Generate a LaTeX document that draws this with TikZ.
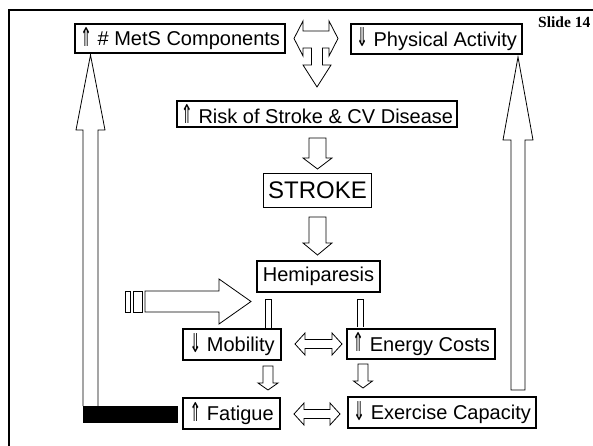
\documentclass[tikz,border=0pt]{standalone}
\usepackage{fontspec}
\usepackage{graphicx}
\setmainfont{Liberation Sans}
\newfontfamily\symf{DejaVu Sans}
\newfontfamily\slidef{Liberation Serif}
\newcommand\upA{\raisebox{-0.5pt}{\scalebox{0.72}[1.3]{\symf ⇑}}}
\newcommand\dnA{\raisebox{-0.5pt}{\scalebox{0.72}[1.3]{\symf ⇓}}}
% down block arrow: x, ytop, yhead, ytip, shaft half width, head half width
\newcommand\dnblk[6]{\draw[blk] (#1-#5,#2) -- (#1-#5,#3) -- (#1-#6,#3) -- (#1,#4) -- (#1+#6,#3) -- (#1+#5,#3) -- (#1+#5,#2) -- cycle;}
% up block arrow: x, ybottom, yhead, ytip, shaft half width, head half width
\newcommand\upblk[6]{\draw[blk] (#1-#5,#2) -- (#1-#5,#3) -- (#1-#6,#3) -- (#1,#4) -- (#1+#6,#3) -- (#1+#5,#3) -- (#1+#5,#2);}
% left-right block arrow: y, xleft tip, xright tip, head length, shaft half width, head half width
\newcommand\lrblk[6]{\draw[blk] (#2,#1) -- (#2+#4,#1-#6) -- (#2+#4,#1-#5) -- (#3-#4,#1-#5) -- (#3-#4,#1-#6) -- (#3,#1) -- (#3-#4,#1+#6) -- (#3-#4,#1+#5) -- (#2+#4,#1+#5) -- (#2+#4,#1+#6) -- cycle;}
\begin{document}
\begin{tikzpicture}[x=1pt,y=-1pt,
  blk/.style={draw, line width=0.8pt, fill=white, line join=miter},
  box/.style={draw, line width=1.8pt, fill=white, inner sep=0pt, font=\fontsize{20}{24}\selectfont},
  thinbox/.style={box, line width=1pt, font=\fontsize{24}{28}\selectfont}]
\useasboundingbox (0,0) rectangle (593,446);
\fill[white] (0,0) rectangle (593,446);
% frame
\draw[line width=2pt] (8.5,448) -- (8.5,10) -- (595,10);
\node[anchor=base west, inner sep=0pt, font=\slidef\bfseries\fontsize{15.5}{18}\selectfont] (slide) at (538,28) {Slide 14};

% boxes
\node[box, minimum width=210, minimum height=29] (mets) at (180,38.5) {\upA\ \# MetS Components};
\node[box, minimum width=171, minimum height=30] (pa) at (436.5,39) {\dnA\ Physical Activity};
\node[box, minimum width=280, minimum height=26] (risk) at (317,114) {\upA\ Risk of Stroke \& CV Disease};
\node[thinbox, minimum width=108, minimum height=34] (stroke) at (317.5,190.5) {STROKE};
\node[box, minimum width=123, minimum height=31] (hemi) at (318.5,276.5) {Hemiparesis};
\node[box, minimum width=98, minimum height=31] (mob) at (232,344.5) {\dnA\ Mobility};
\node[box, minimum width=148, minimum height=30] (energy) at (421,344) {\upA\ Energy Costs};
\node[box, minimum width=97, minimum height=31] (fatigue) at (231.5,413.5) {\upA\ Fatigue};
\node[box, minimum width=188, minimum height=31] (exer) at (442,412.5) {\dnA\ Exercise Capacity};

% T-shaped arrow between MetS and Physical Activity
\draw[blk] (294,38.5) -- (303,21) -- (303,31) -- (329,31) -- (329,21) -- (338,38.5) -- (329,56) -- (329,48) -- (322.5,48) -- (322.5,65) -- (331,65) -- (317,87) -- (303,65) -- (311.5,65) -- (311.5,48) -- (303,48) -- (303,56) -- cycle;

% down arrows
\dnblk{317.5}{138}{158}{169}{8.5}{14.5}
\dnblk{317.5}{217}{243}{255}{8.5}{14.5}
\dnblk{268}{366}{383}{390}{5}{10}
\dnblk{363}{364}{381}{388}{5}{9.5}

% thin open shafts from Hemiparesis
\draw[blk, fill=none] (265.5,327.5) -- (265.5,299) -- (271.5,299) -- (271.5,327.5);
\draw[blk, fill=none] (357,327) -- (357,299) -- (363,299) -- (363,327);

% double arrows
\lrblk{344}{295}{342}{10}{4.5}{11}
\lrblk{414}{294}{340}{10}{4.5}{11}

% big arrow into Hemiparesis
\draw[blk] (125,291) rectangle (130,312);
\draw[blk] (133,291) rectangle (142,312);
\draw[blk] (145,291) -- (219,291) -- (219,279) -- (251,301.5) -- (219,324) -- (219,312) -- (145,312) -- cycle;

% left tall arrow (Fatigue -> MetS)
\upblk{90.5}{406}{130}{55}{7.5}{14.5}
\fill (83,406) rectangle (178,423);

% right tall arrow (Exercise Capacity -> Physical Activity)
\draw[blk] (511,390) -- (511,140) -- (503,140) -- (518,57) -- (533,140) -- (525,140) -- (525,390) -- cycle;
\end{tikzpicture}
\end{document}
